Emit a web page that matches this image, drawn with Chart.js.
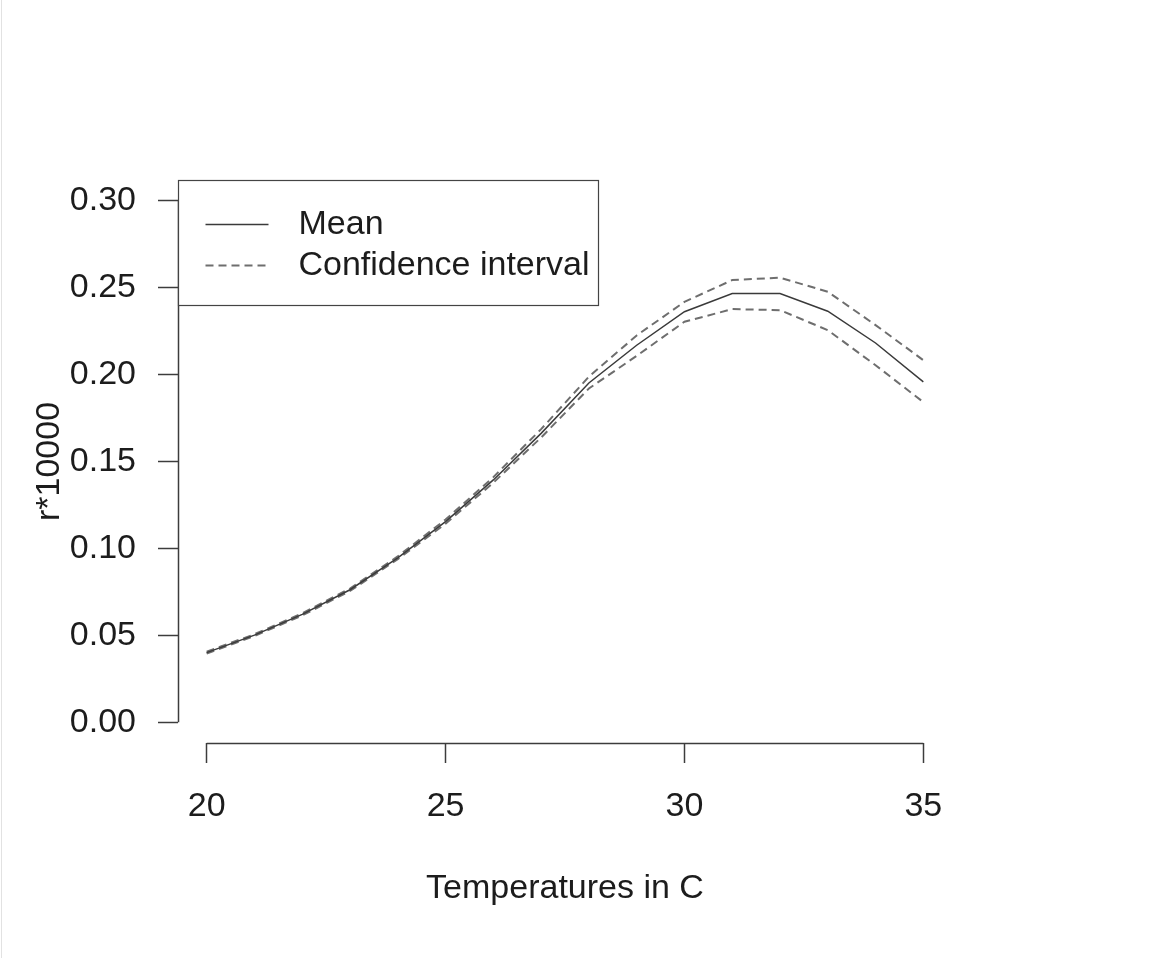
<!DOCTYPE html>
<html>
<head>
<meta charset="utf-8">
<script src="https://cdn.jsdelivr.net/npm/chart.js@4/dist/chart.umd.min.js"></script>
<style>
  html, body { margin: 0; padding: 0; background: #ffffff; }
  #wrap { width: 1164px; height: 958px; position: relative; }
  canvas { display: block; }
</style>
</head>
<body>
<div id="wrap"><canvas id="c" width="1164" height="958"></canvas></div>
<script>
// ---- data ----
const temperatures = [20, 21, 22, 23, 24, 25, 26, 27, 28, 29, 30, 31, 32, 33, 34, 35];
const meanValues   = [0.0400, 0.0501, 0.0620, 0.0762, 0.0946, 0.1154, 0.1394, 0.1662, 0.1952, 0.2169, 0.2362, 0.2467, 0.2467, 0.2365, 0.2182, 0.1958];
const upperValues  = [0.0405, 0.0506, 0.0626, 0.0769, 0.0954, 0.1166, 0.1410, 0.1686, 0.1988, 0.2225, 0.2419, 0.2544, 0.2558, 0.2477, 0.2285, 0.2083];
const lowerValues  = [0.0395, 0.0496, 0.0614, 0.0755, 0.0938, 0.1142, 0.1378, 0.1638, 0.1920, 0.2108, 0.2304, 0.2377, 0.2371, 0.2256, 0.2054, 0.1842];
const xTicks = [20, 25, 30, 35];
const yTicks = [0.00, 0.05, 0.10, 0.15, 0.20, 0.25, 0.30];
const legendLabels = ['Mean', 'Confidence interval'];
const xTitle = 'Temperatures in C';
const yTitle = 'r*10000';

const FONT = '"Liberation Sans", Arial, Helvetica, sans-serif';
const FS = 34;
const AXIS_COLOR = '#3c3c3c';
const TEXT_COLOR = '#1c1c1c';
const MEAN_COLOR = '#3a3a3a';
const CI_COLOR = '#6e6e6e';

const toPts = (vals) => temperatures.map((t, i) => ({ x: t, y: vals[i] }));

// R-style detached axes + legend
const rStyle = {
  id: 'rStyle',
  afterDraw(chart) {
    const ctx = chart.ctx;
    const xs = chart.scales.x, ys = chart.scales.y;
    const ca = chart.chartArea;
    ctx.save();
    ctx.strokeStyle = AXIS_COLOR;
    ctx.lineWidth = 1.5;
    // y axis line
    const yx = Math.round(ca.left) + 0.5;
    ctx.beginPath();
    ctx.moveTo(yx, ys.getPixelForValue(yTicks[yTicks.length - 1]));
    ctx.lineTo(yx, ys.getPixelForValue(yTicks[0]));
    ctx.stroke();
    // x axis line
    const xy = Math.round(ca.bottom) + 0.5;
    ctx.beginPath();
    ctx.moveTo(xs.getPixelForValue(xTicks[0]), xy);
    ctx.lineTo(xs.getPixelForValue(xTicks[xTicks.length - 1]), xy);
    ctx.stroke();

    // legend box (top-left of plot region)
    const lx = Math.round(ca.left) + 0.5, ly = Math.round(ca.top) + 0.5;
    const lw = 420, lh = 125;
    ctx.fillStyle = '#ffffff';
    ctx.fillRect(lx, ly, lw, lh);
    ctx.lineWidth = 1.2;
    ctx.strokeStyle = '#444444';
    ctx.strokeRect(lx, ly, lw, lh);
    // samples
    const sx0 = lx + 27, sx1 = lx + 90;
    const rows = [ly + 44, ly + 85];
    ctx.lineWidth = 1.5;
    ctx.strokeStyle = MEAN_COLOR;
    ctx.setLineDash([]);
    ctx.beginPath(); ctx.moveTo(sx0, rows[0]); ctx.lineTo(sx1, rows[0]); ctx.stroke();
    ctx.lineWidth = 2;
    ctx.strokeStyle = CI_COLOR;
    ctx.setLineDash([8, 5]);
    ctx.beginPath(); ctx.moveTo(sx0, rows[1]); ctx.lineTo(sx1, rows[1]); ctx.stroke();
    ctx.setLineDash([]);
    ctx.fillStyle = TEXT_COLOR;
    ctx.font = FS + 'px ' + FONT;
    ctx.textAlign = 'left';
    ctx.textBaseline = 'middle';
    ctx.fillText(legendLabels[0], lx + 120, rows[0]);
    ctx.fillText(legendLabels[1], lx + 120, rows[1]);
    ctx.restore();
  }
};

const pageBorder = {
  id: 'pageBorder',
  beforeDraw(chart) {
    const ctx = chart.ctx;
    ctx.save();
    ctx.fillStyle = '#ffffff';
    ctx.fillRect(0, 0, chart.width, chart.height);
    ctx.strokeStyle = '#e2e2e2';
    ctx.lineWidth = 1;
    ctx.beginPath();
    ctx.moveTo(1.5, 0); ctx.lineTo(1.5, chart.height);
    ctx.stroke();
    ctx.restore();
  }
};

new Chart(document.getElementById('c'), {
  type: 'line',
  data: {
    datasets: [
      { label: legendLabels[0], data: toPts(meanValues), borderColor: MEAN_COLOR, borderWidth: 1.5, pointRadius: 0, tension: 0, fill: false },
      { label: legendLabels[1], data: toPts(upperValues), borderColor: CI_COLOR, borderWidth: 2, borderDash: [8, 5], pointRadius: 0, tension: 0, fill: false },
      { label: legendLabels[1] + ' (lower)', data: toPts(lowerValues), borderColor: CI_COLOR, borderWidth: 2, borderDash: [8, 5], pointRadius: 0, tension: 0, fill: false }
    ]
  },
  options: {
    responsive: false,
    animation: false,
    layout: { padding: { left: 0, top: 180, right: 212, bottom: 0 } },
    plugins: { legend: { display: false }, tooltip: { enabled: false } },
    scales: {
      x: {
        type: 'linear',
        min: 19.4, max: 35.6,
        afterBuildTicks: (s) => { s.ticks = xTicks.map(v => ({ value: v })); },
        afterFit: (s) => { s.height = 215; },
        border: { display: false },
        grid: { display: true, drawOnChartArea: false, drawTicks: true, tickLength: 20, tickColor: AXIS_COLOR, tickWidth: 1.5, color: AXIS_COLOR },
        ticks: { autoSkip: false, maxRotation: 0, padding: 23, color: TEXT_COLOR, font: { family: FONT, size: FS }, callback: (v) => String(v) },
        title: { display: true, text: xTitle, color: TEXT_COLOR, font: { family: FONT, size: FS }, padding: { top: 0, bottom: 49 } }
      },
      y: {
        type: 'linear',
        min: -0.012, max: 0.312,
        afterBuildTicks: (s) => { s.ticks = yTicks.map(v => ({ value: v })); },
        afterFit: (s) => { s.width = 178; },
        border: { display: false },
        grid: { display: true, drawOnChartArea: false, drawTicks: true, tickLength: 20, tickColor: AXIS_COLOR, tickWidth: 1.5, color: AXIS_COLOR },
        ticks: { autoSkip: false, padding: 22, color: TEXT_COLOR, font: { family: FONT, size: FS }, callback: (v) => Number(v).toFixed(2) },
        title: { display: true, text: yTitle, color: TEXT_COLOR, font: { family: FONT, size: FS }, padding: { top: 29, bottom: 0 } }
      }
    }
  },
  plugins: [pageBorder, rStyle]
});
</script>
</body>
</html>
